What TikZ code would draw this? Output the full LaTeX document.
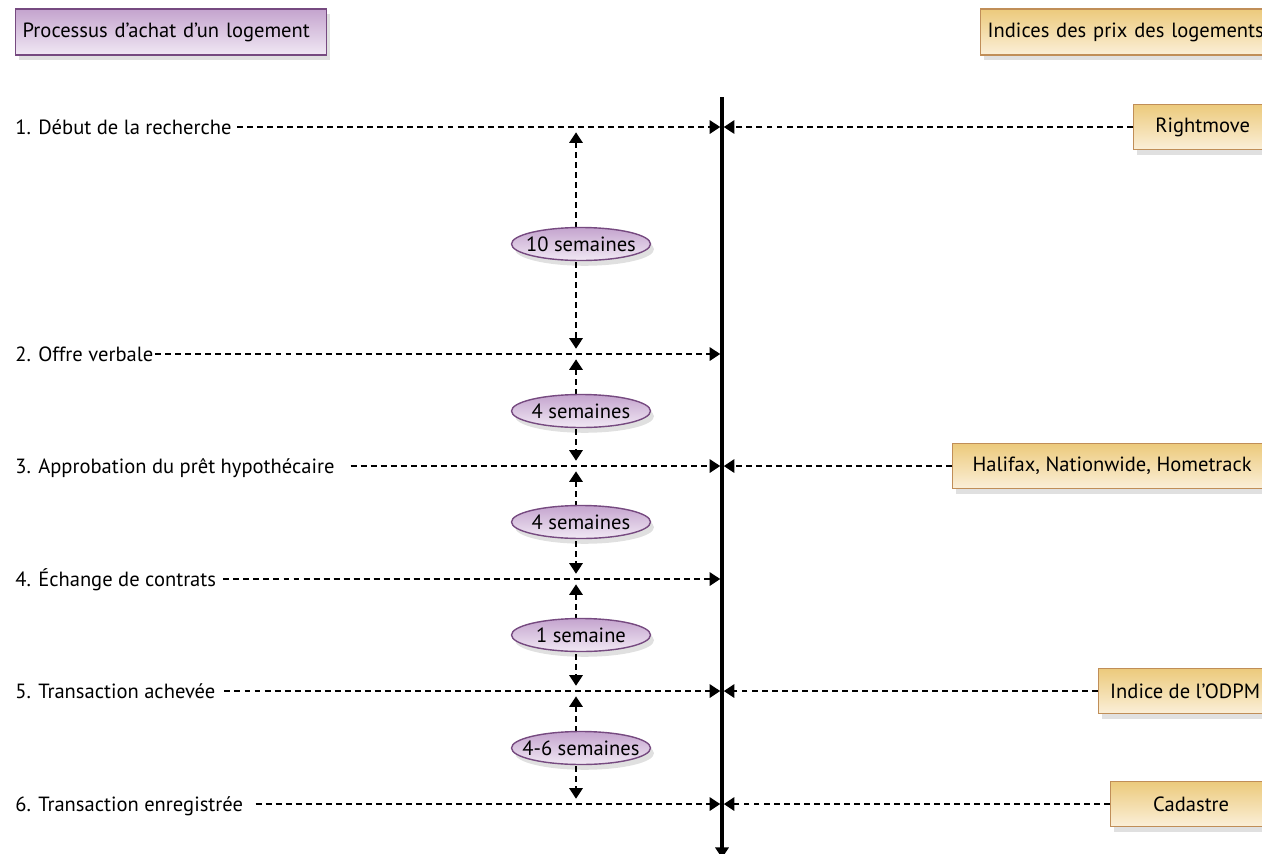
\documentclass[tikz,border=0pt]{standalone}
\usepackage{fontspec}
\setmainfont{PT Sans}
\usetikzlibrary{arrows.meta,shapes.geometric,shadows}

\definecolor{lilacTop}{RGB}{196,164,206}
\definecolor{lilacBot}{RGB}{241,232,244}
\definecolor{lilacLine}{RGB}{118,74,128}
\definecolor{sandTop}{RGB}{236,202,124}
\definecolor{sandBot}{RGB}{251,239,216}
\definecolor{sandLine}{RGB}{192,142,88}

\newcommand{\wk}[1]{\makebox[0pt]{#1}}

\begin{document}
\begin{tikzpicture}[%
    x=0.02cm, y=-0.02cm,
    >={Triangle[length=6pt,width=7.5pt]},
    font=\fontsize{11.7}{14}\selectfont,
    shade/.style={drop shadow={shadow xshift=2pt, shadow yshift=-3pt, opacity=.12, fill=black}},
    lilac/.style={shade, draw=lilacLine, line width=.8pt, top color=lilacTop, bottom color=lilacBot},
    sand/.style={shade, draw=sandLine, line width=.8pt, top color=sandTop, bottom color=sandBot},
    title/.style={minimum height=0.92cm, anchor=west, inner xsep=0.14cm, align=left},
    source/.style={sand, minimum height=0.9cm, anchor=west, inner xsep=0pt},
    stage/.style={anchor=west, inner sep=0pt, text height=9pt, text depth=1pt},
    dur/.style={lilac, ellipse, minimum width=2.78cm, minimum height=0.66cm, inner sep=0pt},
    link/.style={->, dash pattern=on 3.4pt off 2.3pt, line width=1.4pt, shorten >=1pt},
    span/.style={<->, dash pattern=on 3.4pt off 2.3pt, line width=1.4pt, shorten <=3pt, shorten >=3pt},
    axis/.style={->, line width=1.8pt}
    ]

    \useasboundingbox (0,0) rectangle (1262,853);

    \node[lilac, title, text width=5.94cm] (buy) at (15,32) {Processus d’achat d’un logement};
    \node[sand, title, text width=5.9cm] (idx) at (980,32) {Indices des prix des logements};

    \node[stage] (s1) at (15,127) {1. Début de la recherche};
    \node[stage] (s2) at (15,354) {2. Offre verbale};
    \node[stage] (s3) at (15,466) {3. Approbation du prêt hypothécaire};
    \node[stage] (s4) at (15,579) {4. Échange de contrats};
    \node[stage] (s5) at (15,691) {5. Transaction achevée};
    \node[stage] (s6) at (15,804) {6. Transaction enregistrée};

    \node[source, minimum width=2.76cm] (rm) at (1133,127) {Rightmove};
    \node[source, minimum width=6.38cm] (hx) at (952,466) {Halifax, Nationwide, Hometrack};
    \node[source, minimum width=3.46cm] (od) at (1098,691) {Indice de l’ODPM};
    \node[source, minimum width=3.22cm] (cd) at (1110,804) {Cadastre};

    \coordinate (top) at (722,97);
    \coordinate (bot) at (722,858);
    \foreach \n/\y in {1/127,2/354,3/466,4/579,5/691,6/804} {
        \coordinate (a\n) at (722,\y);
        \coordinate (t\n) at (576,\y);
    }

    \path[axis] (top) edge (bot);

    \path[link] (s1) edge[shorten <=3pt] (a1);
    \path[link] (s2) edge[shorten <=1pt] (a2);
    \path[link] (s3) edge[shorten <=9pt] (a3);
    \path[link] (s4) edge[shorten <=4pt] (a4);
    \path[link] (s5) edge[shorten <=5pt] (a5);
    \path[link] (s6) edge[shorten <=7pt] (a6);

    \path[link] (rm) edge (a1);
    \path[link] (hx) edge (a3);
    \path[link] (od) edge (a5);
    \path[link] (cd) edge (a6);

    \path[span] (t1) edge (t2);
    \path[span] (t2) edge (t3);
    \path[span] (t3) edge (t4);
    \path[span] (t4) edge (t5);
    \path[span] (t5) edge (t6);

    \node[dur] (d1) at (581,244) {\wk{10 semaines}};
    \node[dur] (d2) at (581,411) {\wk{4 semaines}};
    \node[dur] (d3) at (581,522) {\wk{4 semaines}};
    \node[dur] (d4) at (581,635) {\wk{1 semaine}};
    \node[dur] (d5) at (581,748) {\wk{4-6 semaines}};

\end{tikzpicture}
\end{document}
